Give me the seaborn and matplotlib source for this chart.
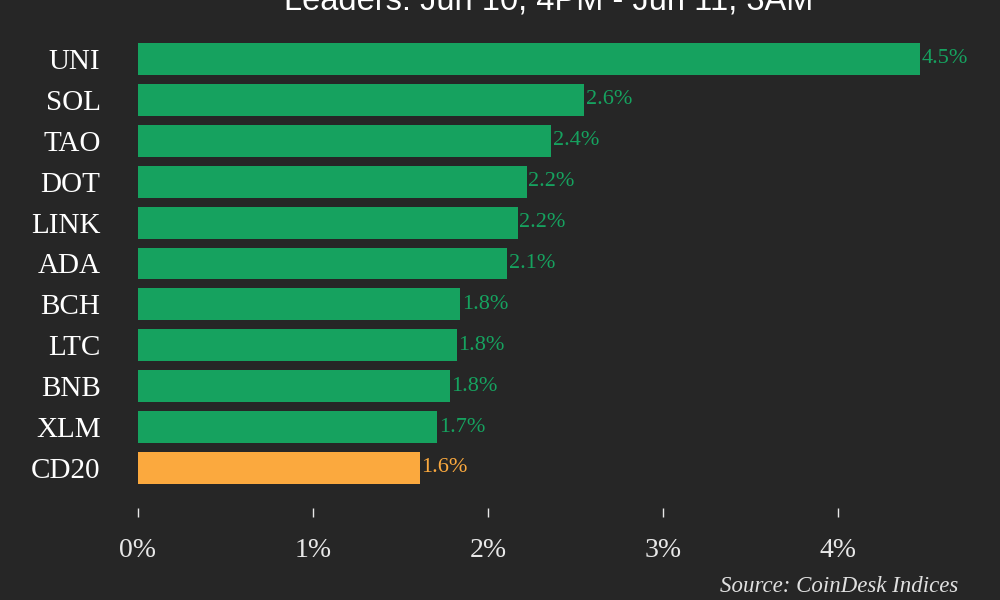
import pandas as pd
import numpy as np
import matplotlib
matplotlib.use("Agg")
import matplotlib.pyplot as plt
import seaborn as sns

# 데이터
coins = ["UNI", "SOL", "TAO", "DOT", "LINK", "ADA", "BCH", "LTC", "BNB", "XLM", "CD20"]
changes = [4.47, 2.55, 2.36, 2.22, 2.17, 2.11, 1.84, 1.82, 1.78, 1.71, 1.61]
labels = ["4.5%", "2.6%", "2.4%", "2.2%", "2.2%", "2.1%", "1.8%", "1.8%", "1.8%", "1.7%", "1.6%"]
xticks = [0, 1, 2, 3, 4]

green = "#16a25f"
orange = "#fba93e"
bg = "#262626"
colors = [orange if c == "CD20" else green for c in coins]

df = pd.DataFrame({"coin": coins, "change": changes})

sns.set_style("dark")
plt.rcParams["font.family"] = ["Liberation Serif", "DejaVu Serif"]

fig = plt.figure(figsize=(10, 6), dpi=100, facecolor=bg)
ax = fig.add_axes([0.138, 0.1533, 0.8225, 0.7825])
ax.set_facecolor(bg)

sns.barplot(data=df, x="change", y="coin", hue="coin", palette=colors,
            legend=False, width=0.78, saturation=1, linewidth=0, ax=ax)

# 값 표시
for i, (v, s) in enumerate(zip(changes, labels)):
    ax.text(v + 0.01, i, s, color=colors[i], fontsize=16, ha="left", va="center")

ax.set_xlim(0, 4.7)
ax.set_ylim(10.98, -0.5)
ax.set_xticks(xticks)
ax.set_xticklabels([f"{t}%" for t in xticks])
ax.set_xlabel("")
ax.set_ylabel("")
ax.grid(False)
for sp in ax.spines.values():
    sp.set_visible(False)
ax.tick_params(axis="x", bottom=True, colors="#e8e8e8", length=6.5, width=1, pad=15, labelsize=20)
ax.tick_params(axis="y", left=False, colors="white", length=0, pad=27, labelsize=21)

fig.text(0.549, 1 - 10 / 600, "Leaders: Jun 10, 4PM - Jun 11, 3AM",
         family="Liberation Sans", color="white", fontsize=23.5, ha="center", va="baseline")
fig.text(0.958, 0.005, "Source: CoinDesk Indices", color="#e0e0e0",
         fontsize=16.5, style="italic", ha="right", va="bottom")

fig.savefig("out.png", facecolor=bg)
